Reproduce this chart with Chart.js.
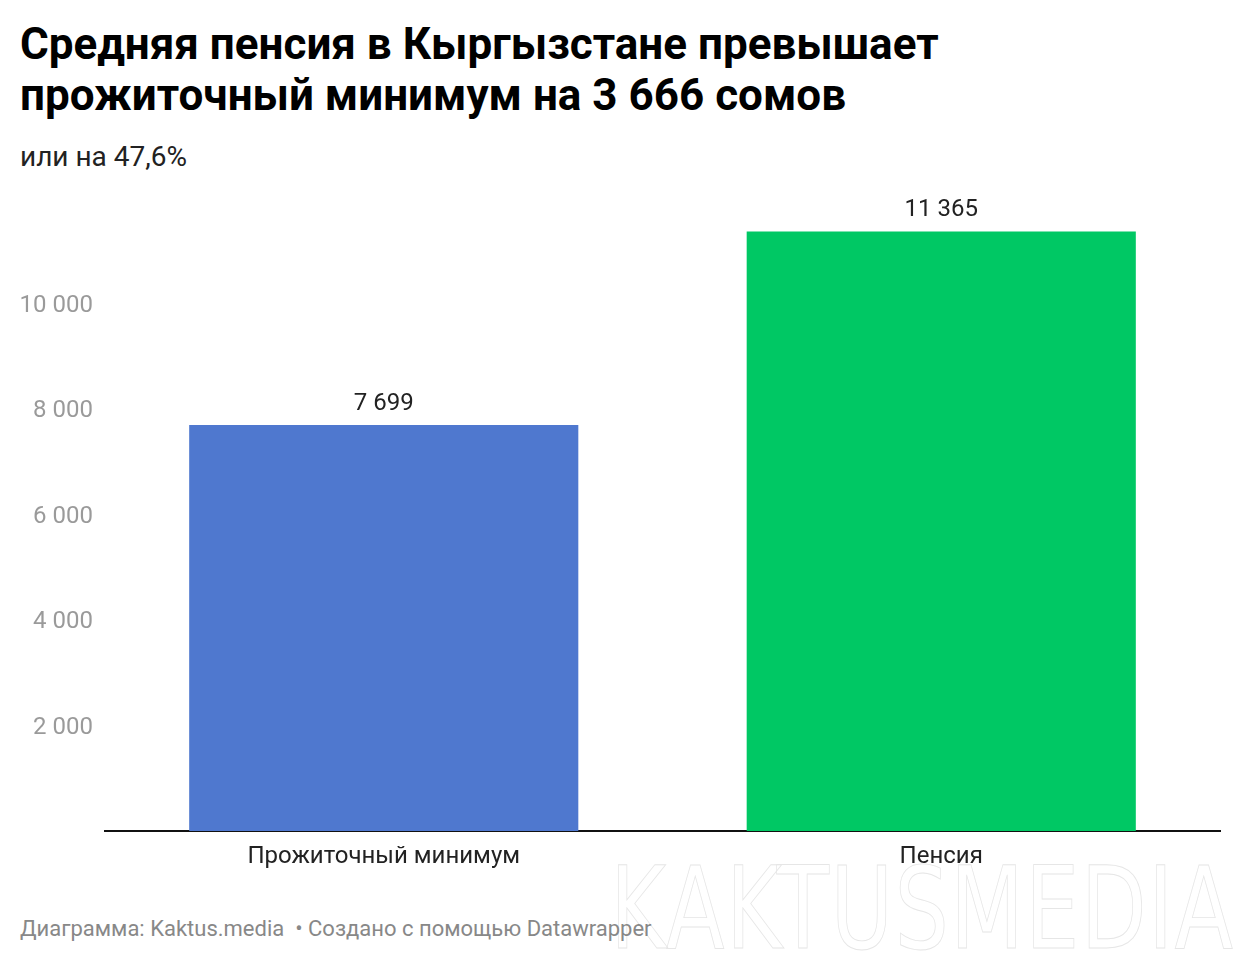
<!DOCTYPE html>
<html lang="ru">
  <head>
    <meta charset="UTF-8" />
    <title>Средняя пенсия в Кыргызстане</title>
    <style>
      body {
        margin: 0;
        width: 1240px;
        height: 962px;
        background: #fff;
        font-family: Roboto, "Noto Sans", sans-serif;
        position: relative;
        overflow: hidden;
      }
      h1 {
        position: absolute;
        left: 20px;
        top: 19px;
        margin: 0;
        font-size: 44px;
        line-height: 51px;
        font-weight: 700;
        color: #000;
      }
      .sub {
        position: absolute;
        left: 20px;
        top: 140px;
        font-size: 28px;
        line-height: 34px;
        color: #222;
      }
      .chart-box {
        position: absolute;
        left: 0;
        top: 150px;
        width: 1240px;
        height: 730px;
      }
      .footer {
        position: absolute;
        left: 20px;
        top: 915px;
        font-size: 22px;
        line-height: 28px;
        color: #888;
      }
      .mark {
        position: absolute;
        left: 610px;
        top: 842px;
        font-size: 124px;
        font-weight: 400;
        letter-spacing: 2px;
        color: transparent;
        -webkit-text-stroke: 1px #e6e6e6;
        transform-origin: left top;
        transform: scaleX(0.69) scaleY(0.92);
        white-space: nowrap;
        font-family: "DejaVu Sans", sans-serif;
      }
    </style>
  </head>
  <body>
    <h1>Средняя пенсия в Кыргызстане превышает<br />прожиточный минимум на 3 666 сомов</h1>
    <div class="sub">или на 47,6%</div>
    <div class="mark">KAKTUSMEDIA</div>
    <div class="chart-box"><canvas id="chart"></canvas></div>
    <div class="footer">Диаграмма: Kaktus.media &nbsp;• Создано с помощью Datawrapper</div>

    <script src="https://cdn.jsdelivr.net/npm/chart.js"></script>
    <script>
      const categories = ["Прожиточный минимум", "Пенсия"];
      const values = [7699, 11365];
      const barColors = ["#4f78cf", "#00c864"];
      const yTicks = [2000, 4000, 6000, 8000, 10000];

      const fmt = (v) => String(v).replace(/\B(?=(\d{3})+(?!\d))/g, " ");

      // value labels above bars
      const valueLabels = {
        id: "valueLabels",
        afterDatasetsDraw(chart) {
          const ctx = chart.ctx;
          const meta = chart.getDatasetMeta(0);
          ctx.save();
          ctx.font = "24px Roboto";
          ctx.fillStyle = "#222";
          ctx.textAlign = "center";
          ctx.textBaseline = "bottom";
          meta.data.forEach((bar, i) => {
            ctx.fillText(fmt(values[i]), bar.x, bar.y - 9);
          });
          ctx.restore();
        },
      };

      Chart.defaults.font.family = "Roboto";
      new Chart(document.getElementById("chart"), {
        type: "bar",
        data: {
          labels: categories,
          datasets: [
            {
              data: values,
              backgroundColor: barColors,
              barPercentage: 0.698,
              categoryPercentage: 1,
            },
          ],
        },
        options: {
          responsive: true,
          maintainAspectRatio: false,
          animation: false,
          layout: { padding: { top: 48, right: 20, left: 20, bottom: 0 } },
          plugins: { legend: { display: false }, tooltip: { enabled: false } },
          scales: {
            x: {
              grid: { display: false, drawTicks: false },
              border: { color: "#111", width: 2 },
              ticks: { color: "#222", font: { size: 24 }, padding: 12 },
              afterFit: (s) => { s.height = 49; },
            },
            y: {
              min: 0,
              max: 12000,
              grid: { display: false, drawTicks: false },
              border: { display: false },
              afterBuildTicks: (s) => {
                s.ticks = yTicks.map((v) => ({ value: v }));
              },
              ticks: {
                color: "#9a9a9a",
                font: { size: 24 },
                padding: 12,
                labelOffset: 2,
                callback: (v) => fmt(v),
              },
              afterFit: (s) => { s.width = 85; },
            },
          },
        },
        plugins: [valueLabels],
      });
    </script>
  </body>
</html>
